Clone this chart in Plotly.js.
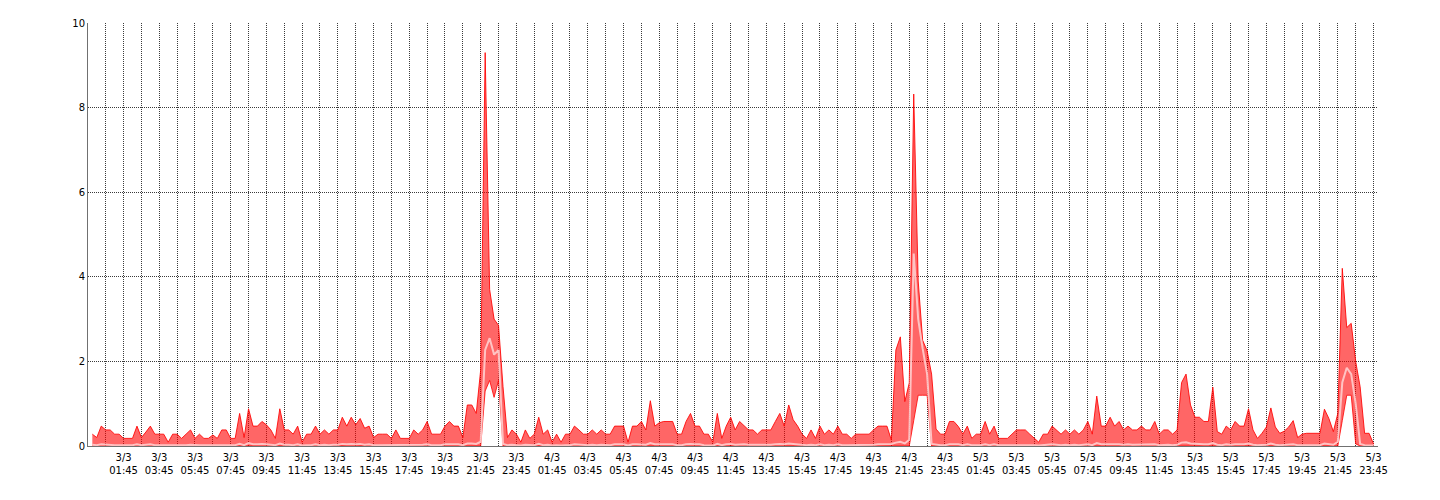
<!DOCTYPE html>
<html>
<head>
<meta charset="utf-8">
<script src="https://cdn.plot.ly/plotly-3.0.1.min.js"></script>
<style>html,body{margin:0;padding:0;background:#fff;}#chart{width:1440px;height:500px;}</style>
</head>
<body>
<div id="chart"></div>
<script>
// 15-minute samples from 3/3 00:00 to 5/3 23:45
var startTime = '2020-03-03T00:00:00Z';
var stepMinutes = 15;

var maxValues = [
  0.28,0.2,0.47,0.38,0.38,0.28,0.28,0.18,0.18,0.18,0.47,0.2,0.33,0.47,0.28,0.28,0.28,0.09,0.28,0.28,0.18,0.28,0.38,0.18,
  0.28,0.18,0.18,0.26,0.18,0.38,0.38,0.18,0.18,0.77,0.2,0.88,0.47,0.47,0.58,0.5,0.38,0.18,0.88,0.38,0.38,0.28,0.47,0.09,
  0.28,0.28,0.47,0.28,0.38,0.28,0.38,0.38,0.68,0.47,0.68,0.5,0.65,0.42,0.47,0.2,0.28,0.28,0.28,0.18,0.38,0.18,0.18,0.18,
  0.38,0.28,0.38,0.58,0.28,0.28,0.28,0.47,0.58,0.47,0.47,0.2,0.97,0.97,0.77,1.8,9.3,3.7,3.0,2.85,1.4,0.2,0.38,0.28,
  0.09,0.38,0.18,0.28,0.68,0.28,0.38,0.09,0.28,0.09,0.28,0.28,0.47,0.38,0.28,0.28,0.38,0.28,0.38,0.28,0.28,0.47,0.47,0.47,
  0.09,0.47,0.47,0.58,0.38,1.07,0.47,0.55,0.58,0.58,0.58,0.28,0.28,0.58,0.77,0.47,0.47,0.28,0.28,0.09,0.77,0.18,0.47,0.68,
  0.38,0.58,0.47,0.38,0.38,0.28,0.38,0.38,0.38,0.58,0.77,0.47,0.97,0.62,0.47,0.28,0.18,0.38,0.18,0.47,0.28,0.38,0.28,0.47,
  0.28,0.28,0.18,0.28,0.28,0.28,0.28,0.38,0.47,0.47,0.47,0.14,2.27,2.58,1.05,1.49,8.32,3.9,2.5,2.25,1.7,0.4,0.28,0.28,
  0.58,0.58,0.46,0.28,0.47,0.18,0.28,0.28,0.58,0.28,0.47,0.18,0.18,0.18,0.28,0.38,0.38,0.38,0.28,0.18,0.09,0.28,0.28,0.47,
  0.38,0.28,0.38,0.28,0.38,0.28,0.38,0.58,0.28,1.18,0.47,0.47,0.68,0.47,0.58,0.38,0.47,0.38,0.38,0.47,0.38,0.38,0.58,0.28,
  0.38,0.38,0.28,0.38,1.5,1.7,0.97,0.68,0.68,0.58,0.58,1.39,0.34,0.28,0.47,0.38,0.58,0.47,0.47,0.88,0.38,0.18,0.3,0.45,
  0.9,0.45,0.3,0.35,0.45,0.6,0.2,0.28,0.3,0.3,0.3,0.3,0.87,0.65,0.34,0.77,4.2,2.8,2.9,2.0,1.4,0.3,0.3,0.05
];

var minValues = [
  0,0,0,0,0,0,0,0,0,0,0,0,0,0,0,0,0,0,0,0,0,0,0,0,
  0,0,0,0,0,0,0,0,0,0,0,0,0,0,0,0,0,0,0,0,0,0,0,0,
  0,0,0,0,0,0,0,0,0,0,0,0,0,0,0,0,0,0,0,0,0,0,0,0,
  0,0,0,0,0,0,0,0,0,0,0,0,0,0,0,0,1.3,1.55,1.15,1.55,0,0,0,0,
  0,0,0,0,0,0,0,0,0,0,0,0,0,0,0,0,0,0,0,0,0,0,0,0,
  0,0,0,0,0,0,0,0,0,0,0,0,0,0,0,0,0,0,0,0,0,0,0,0,
  0,0,0,0,0,0,0,0,0,0,0,0,0,0,0,0,0,0,0,0,0,0,0,0,
  0,0,0,0,0,0,0,0,0,0,0,0,0,0,0,0,0.6,1.2,1.2,1.2,0,0,0,0,
  0,0,0,0,0,0,0,0,0,0,0,0,0,0,0,0,0,0,0,0,0,0,0,0,
  0,0,0,0,0,0,0,0,0,0,0,0,0,0,0,0,0,0,0,0,0,0,0,0,
  0,0,0,0,0,0,0,0,0,0,0,0,0,0,0,0,0,0,0,0,0,0,0,0,
  0,0,0,0,0,0,0,0,0,0,0,0,0,0,0,0,0.6,1.2,1.2,0.05,0,0,0,0
];

var avgValues = [
  0.03,0.02,0.04,0.03,0.03,0.02,0.02,0.02,0.02,0.02,0.04,0.02,0.03,0.04,0.02,0.02,0.02,0.01,0.02,0.02,0.02,0.02,0.03,0.02,
  0.02,0.02,0.02,0.02,0.02,0.03,0.03,0.02,0.02,0.05,0.02,0.07,0.04,0.04,0.05,0.04,0.03,0.02,0.06,0.03,0.03,0.02,0.04,0.01,
  0.02,0.02,0.04,0.02,0.03,0.02,0.03,0.03,0.05,0.04,0.05,0.04,0.05,0.03,0.04,0.02,0.02,0.02,0.02,0.02,0.03,0.02,0.02,0.02,
  0.03,0.02,0.03,0.04,0.02,0.02,0.02,0.04,0.04,0.04,0.04,0.02,0.06,0.06,0.05,0.1,2.27,2.55,2.16,2.27,0.05,0.02,0.03,0.02,
  0.01,0.03,0.02,0.02,0.05,0.02,0.03,0.01,0.02,0.01,0.02,0.02,0.04,0.03,0.02,0.02,0.03,0.02,0.03,0.02,0.02,0.04,0.04,0.04,
  0.01,0.04,0.04,0.04,0.03,0.07,0.04,0.04,0.04,0.04,0.04,0.02,0.02,0.04,0.05,0.04,0.04,0.02,0.02,0.01,0.05,0.02,0.04,0.05,
  0.03,0.04,0.04,0.03,0.03,0.02,0.03,0.03,0.03,0.04,0.05,0.04,0.06,0.05,0.04,0.02,0.02,0.03,0.02,0.04,0.02,0.03,0.02,0.04,
  0.02,0.02,0.02,0.02,0.02,0.02,0.02,0.03,0.04,0.04,0.04,0.05,0.08,0.1,0.06,0.15,4.55,3.0,2.3,1.7,0.05,0.03,0.02,0.02,
  0.04,0.04,0.04,0.02,0.04,0.02,0.02,0.02,0.04,0.02,0.04,0.02,0.02,0.02,0.02,0.03,0.03,0.03,0.02,0.02,0.01,0.02,0.02,0.04,
  0.03,0.02,0.03,0.02,0.03,0.02,0.03,0.04,0.02,0.07,0.04,0.04,0.05,0.04,0.04,0.03,0.04,0.03,0.03,0.04,0.03,0.03,0.04,0.02,
  0.03,0.03,0.02,0.03,0.08,0.09,0.06,0.05,0.05,0.04,0.04,0.07,0.03,0.02,0.04,0.03,0.04,0.04,0.04,0.06,0.03,0.02,0.02,0.03,
  0.06,0.03,0.02,0.03,0.03,0.04,0.02,0.02,0.02,0.02,0.02,0.02,0.06,0.05,0.03,0.1,1.5,1.85,1.7,1.0,0.05,0.02,0.02,0.01
];

var yTickValues = [0, 2, 4, 6, 8, 10];

function pad(n) { return (n < 10 ? '0' : '') + n; }
function fmt(d) {
  return d.getUTCFullYear() + '-' + pad(d.getUTCMonth() + 1) + '-' + pad(d.getUTCDate()) +
         ' ' + pad(d.getUTCHours()) + ':' + pad(d.getUTCMinutes());
}
var t0 = new Date(startTime).getTime();
var times = maxValues.map(function (_, i) { return fmt(new Date(t0 + i * stepMinutes * 60000)); });

var gridDash = '1px,1px';
var gridColor = '#3a3a3a';

var traces = [
  {
    x: times, y: minValues, type: 'scatter', mode: 'lines',
    line: {color: 'rgba(255,0,0,0.8)', width: 1},
    hoverinfo: 'skip'
  },
  {
    x: times, y: maxValues, type: 'scatter', mode: 'lines',
    fill: 'tonexty', fillcolor: 'rgba(255,0,0,0.6)',
    line: {color: 'rgba(255,0,0,0.85)', width: 1},
    hoverinfo: 'skip'
  },
  {
    x: times, y: avgValues, type: 'scatter', mode: 'lines',
    line: {color: 'rgba(255,205,205,0.9)', width: 2},
    hoverinfo: 'skip'
  }
];

var layout = {
  width: 1440, height: 500,
  margin: {l: 88, r: 62, t: 23, b: 54, pad: 0},
  paper_bgcolor: '#ffffff', plot_bgcolor: '#ffffff',
  showlegend: false,
  font: {family: 'DejaVu Sans, Verdana, sans-serif', size: 10, color: '#000'},
  xaxis: {
    type: 'date',
    range: ['2020-03-02 23:45:30', '2020-03-06 00:00'],
    tickmode: 'linear',
    tick0: '2020-03-03 01:45',
    dtick: 7200000,
    tickformat: '%-d/%-m<br>%H:%M',
    ticks: '',
    ticklabelstandoff: 2,
    showgrid: true, gridcolor: gridColor, griddash: gridDash, gridwidth: 1,
    minor: {tick0: '2020-03-03 00:45', dtick: 3600000, showgrid: true,
            gridcolor: gridColor, griddash: gridDash, gridwidth: 1, ticks: ''},
    showline: true, linecolor: '#707070', linewidth: 1,
    zeroline: false,
    tickfont: {size: 10, color: '#000'}
  },
  yaxis: {
    range: [0, 10],
    tickmode: 'array',
    tickvals: yTickValues,
    ticktext: yTickValues.map(String),
    ticks: '',
    showgrid: true, gridcolor: gridColor, griddash: gridDash, gridwidth: 1,
    showline: true, linecolor: '#707070', linewidth: 1,
    zeroline: false,
    tickfont: {size: 10, color: '#000'}
  },
  hovermode: false
};

Plotly.newPlot('chart', traces, layout, {staticPlot: true, displayModeBar: false});
</script>
</body>
</html>
